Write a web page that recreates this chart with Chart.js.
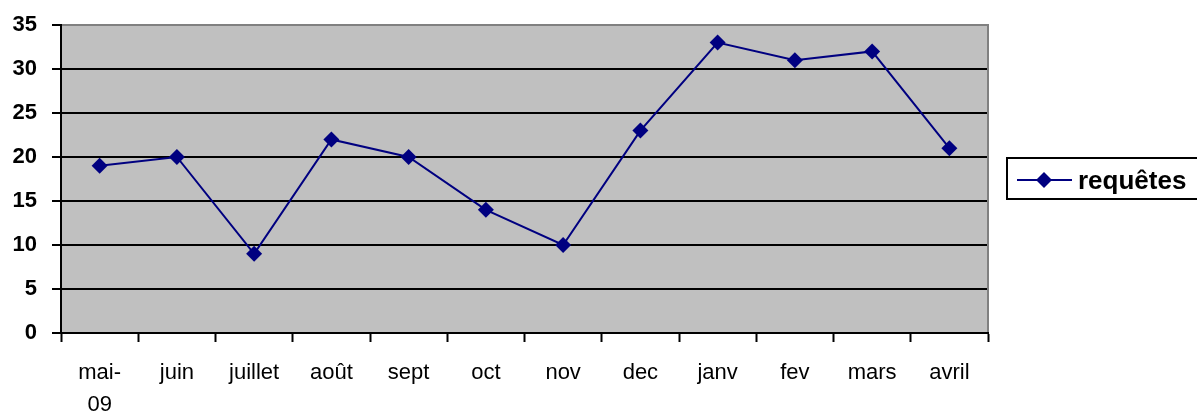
<!DOCTYPE html>
<html>
<head>
<meta charset="utf-8">
<script src="https://cdn.jsdelivr.net/npm/chart.js@4"></script>
<style>
  html, body { margin: 0; padding: 0; background: #fff; }
  #wrap { width: 1197px; height: 416px; position: relative; }
</style>
</head>
<body>
<div id="wrap"><canvas id="chart-requetes"></canvas></div>
<script>
// monthly values
const months = [['mai-', '09'], 'juin', 'juillet', 'août', 'sept', 'oct', 'nov', 'dec', 'janv', 'fev', 'mars', 'avril']
const requetes = [19, 20, 9, 22, 20, 14, 10, 23, 33, 31, 32, 21]
const yTicks = [0, 5, 10, 15, 20, 25, 30, 35]
const seriesName = 'requêtes'

const FONT = '"Liberation Sans", Arial, sans-serif'
const NAVY = '#000080'

// grey plot area + grey top/right border, like the old spreadsheet look
const plotFrame = {
  id: 'plotFrame',
  beforeDraw(chart) {
    const { ctx, chartArea: a } = chart
    ctx.save()
    ctx.fillStyle = '#c0c0c0'
    ctx.fillRect(a.left, a.top, a.right - a.left, a.bottom - a.top)
    ctx.restore()
  },
  afterDatasetsDraw(chart) {
    const { ctx, chartArea: a } = chart
    ctx.save()
    ctx.strokeStyle = '#808080'
    ctx.lineWidth = 2
    ctx.beginPath()
    ctx.moveTo(a.left + 1, a.top)
    ctx.lineTo(a.right, a.top)
    ctx.lineTo(a.right, a.bottom - 1)
    ctx.stroke()
    ctx.restore()
  },
}

// boxed legend with line + diamond sample
const boxLegend = {
  id: 'boxLegend',
  afterDraw(chart) {
    const { ctx } = chart
    const ds = chart.data.datasets[0]
    const x = 1007, y = 158, h = 41
    ctx.save()
    ctx.fillStyle = '#fff'
    ctx.fillRect(x, y, 200, h)
    ctx.strokeStyle = '#000'
    ctx.lineWidth = 2
    ctx.strokeRect(x, y, 200, h)
    const cy = y + 22
    ctx.strokeStyle = ds.borderColor
    ctx.lineWidth = 2
    ctx.beginPath()
    ctx.moveTo(x + 10, cy)
    ctx.lineTo(x + 65, cy)
    ctx.stroke()
    ctx.fillStyle = ds.borderColor
    ctx.beginPath()
    ctx.moveTo(x + 37, cy - 8)
    ctx.lineTo(x + 45, cy)
    ctx.lineTo(x + 37, cy + 8)
    ctx.lineTo(x + 29, cy)
    ctx.closePath()
    ctx.fill()
    ctx.fillStyle = '#000'
    ctx.font = 'bold 26px ' + FONT
    ctx.textBaseline = 'alphabetic'
    ctx.fillText(ds.label, x + 71, cy + 9)
    ctx.restore()
  },
}

const ctx = document.getElementById('chart-requetes')

new Chart(ctx, {
  type: 'line',
  data: {
    labels: months,
    datasets: [
      {
        label: seriesName,
        data: requetes,
        borderColor: NAVY,
        backgroundColor: NAVY,
        borderWidth: 2,
        tension: 0,
        pointStyle: 'rectRot',
        pointRadius: 8,
        pointHoverRadius: 8,
        pointBorderWidth: 0,
      },
    ],
  },
  options: {
    responsive: true,
    maintainAspectRatio: false,
    animation: false,
    layout: { padding: { left: 0, top: 25, right: 209, bottom: 0 } },
    plugins: {
      legend: { display: false },
      tooltip: { enabled: false },
    },
    scales: {
      x: {
        offset: true,
        afterFit(scale) {
          scale.height = 83
          scale.paddingLeft = 0
          scale.paddingRight = 0
        },
        grid: {
          offset: true,
          drawOnChartArea: false,
          drawTicks: true,
          tickLength: 9,
          tickWidth: 2,
          tickColor: '#000',
        },
        border: { display: true, color: '#000', width: 2 },
        ticks: {
          color: '#000',
          font: { family: FONT, size: 22, lineHeight: 1.45 },
          padding: 15,
          maxRotation: 0,
          autoSkip: false,
        },
      },
      y: {
        min: 0,
        max: 35,
        afterFit(scale) {
          scale.width = 61
          scale.paddingTop = 0
          scale.paddingBottom = 0
        },
        afterBuildTicks(scale) { scale.ticks = yTicks.map((v) => ({ value: v })) },
        grid: {
          color: (c) => (c.tick && c.tick.value === 35 ? '#808080' : '#000'),
          lineWidth: 2,
          tickLength: 9,
          tickColor: '#000',
        },
        border: { display: true, color: '#000', width: 2 },
        ticks: {
          color: '#000',
          font: { family: FONT, size: 22, weight: 'bold' },
          padding: 15,
        },
      },
    },
  },
  plugins: [plotFrame, boxLegend],
})
</script>
</body>
</html>
